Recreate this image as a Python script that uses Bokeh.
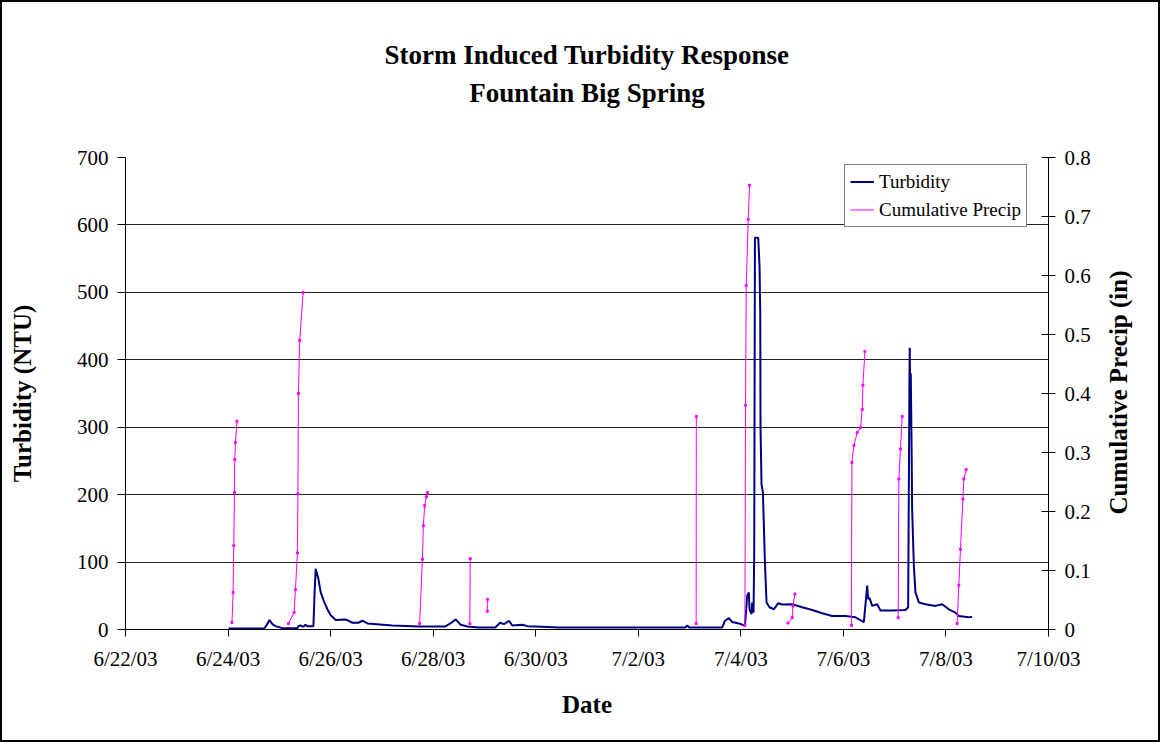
import math
import numpy as np
import pandas as pd
from bokeh.plotting import figure
from bokeh.models import (Range1d, LinearAxis, FixedTicker, CustomJSTickFormatter,
                          Legend, LegendItem, Title, ColumnDataSource)
from bokeh.embed import file_html
from bokeh.resources import INLINE

# ---------------- data ----------------
x_start = "2003-06-22"
x_end = "2003-07-10"
date_ticks = ["2003-06-22", "2003-06-24", "2003-06-26", "2003-06-28", "2003-06-30",
              "2003-07-02", "2003-07-04", "2003-07-06", "2003-07-08", "2003-07-10"]
date_tick_labels = ["6/22/03", "6/24/03", "6/26/03", "6/28/03", "6/30/03",
                    "7/2/03", "7/4/03", "7/6/03", "7/8/03", "7/10/03"]
turb_ticks = [0, 100, 200, 300, 400, 500, 600, 700]
precip_ticks = [0, 0.1, 0.2, 0.3, 0.4, 0.5, 0.6, 0.7, 0.8]
precip_tick_labels = ["0", "0.1", "0.2", "0.3", "0.4", "0.5", "0.6", "0.7", "0.8"]

turb_time = [
    "2003-06-24 00:11", "2003-06-24 16:53", "2003-06-24 17:58", "2003-06-24 19:22",
    "2003-06-24 20:46", "2003-06-24 22:11", "2003-06-25 01:27", "2003-06-25 08:28",
    "2003-06-25 08:56", "2003-06-25 09:52", "2003-06-25 11:17", "2003-06-25 12:13",
    "2003-06-25 13:09", "2003-06-25 15:57", "2003-06-25 16:34", "2003-06-25 17:02",
    "2003-06-25 18:17", "2003-06-25 19:22", "2003-06-25 20:58", "2003-06-25 22:30",
    "2003-06-26 00:03", "2003-06-26 02:23", "2003-06-26 07:04", "2003-06-26 10:12",
    "2003-06-26 13:01", "2003-06-26 14:53", "2003-06-26 17:13", "2003-06-27 04:55",
    "2003-06-27 17:24", "2003-06-28 05:43", "2003-06-28 08:03", "2003-06-28 10:32",
    "2003-06-28 12:52", "2003-06-28 16:00", "2003-06-28 21:09", "2003-06-29 05:06",
    "2003-06-29 07:18", "2003-06-29 09:10", "2003-06-29 11:31", "2003-06-29 13:03",
    "2003-06-29 17:44", "2003-06-29 20:04", "2003-06-29 23:49", "2003-06-30 10:54",
    "2003-07-02 21:59", "2003-07-02 22:56", "2003-07-02 23:52", "2003-07-03 15:18",
    "2003-07-03 16:34", "2003-07-03 18:26", "2003-07-03 19:59", "2003-07-03 23:07",
    "2003-07-04 01:55", "2003-07-04 03:00", "2003-07-04 03:47", "2003-07-04 04:04",
    "2003-07-04 05:01", "2003-07-04 05:20", "2003-07-04 05:57", "2003-07-04 06:16",
    "2003-07-04 06:36", "2003-07-04 08:08", "2003-07-04 08:45", "2003-07-04 09:05",
    "2003-07-04 09:13", "2003-07-04 09:41", "2003-07-04 10:20", "2003-07-04 11:17",
    "2003-07-04 12:02", "2003-07-04 13:26", "2003-07-04 15:29", "2003-07-04 17:30",
    "2003-07-04 19:22", "2003-07-05 00:03", "2003-07-05 04:44", "2003-07-05 09:25",
    "2003-07-05 14:05", "2003-07-05 18:46", "2003-07-06 00:59", "2003-07-06 05:40",
    "2003-07-06 09:35", "2003-07-06 11:08", "2003-07-06 11:36", "2003-07-06 12:13",
    "2003-07-06 13:29", "2003-07-06 15:49", "2003-07-06 17:22", "2003-07-06 22:50",
    "2003-07-07 05:04", "2003-07-07 06:19", "2003-07-07 06:56", "2003-07-07 07:04",
    "2003-07-07 07:24", "2003-07-07 07:32", "2003-07-07 07:52", "2003-07-07 08:11",
    "2003-07-07 08:59", "2003-07-07 09:44", "2003-07-07 11:20", "2003-07-07 14:25",
    "2003-07-07 19:05", "2003-07-07 22:14", "2003-07-08 01:22", "2003-07-08 04:27",
    "2003-07-08 06:02", "2003-07-08 10:43", "2003-07-08 12:16",
]
turb_ntu = [
    1.5, 1.5, 6, 14,
    8, 5, 2, 2,
    5, 6, 4, 7,
    5, 5, 60, 90,
    75, 55, 41, 30,
    21, 14, 15, 10,
    10, 13, 9, 6,
    4.5, 4.5, 9, 15,
    7, 4.5, 3, 3,
    10, 8, 13, 6,
    7, 5, 4.5, 3,
    3, 6, 3, 3,
    13, 17, 11, 9,
    5.5, 50, 55, 30,
    23, 40, 25, 114,
    581, 581, 539, 470,
    300, 215, 203, 99,
    40, 33, 30, 39,
    37, 37.5, 33, 29,
    24, 20, 20, 18,
    11, 65, 45, 47,
    35, 37.5, 28, 28,
    29, 33, 376, 418,
    300, 380, 287, 178,
    94, 55, 40, 37.5,
    35, 37.5, 30, 25,
    20, 18, 19,
]

# cumulative precipitation, one list per storm
precip_time = [
    ["2003-06-24 01:50", "2003-06-24 02:23", "2003-06-24 02:40", "2003-06-24 03:00",
     "2003-06-24 03:08", "2003-06-24 03:28", "2003-06-24 04:10"],
    ["2003-06-25 04:16", "2003-06-25 06:55", "2003-06-25 07:32", "2003-06-25 08:28",
     "2003-06-25 08:42", "2003-06-25 08:56", "2003-06-25 09:32", "2003-06-25 11:08"],
    ["2003-06-27 17:41", "2003-06-27 18:57", "2003-06-27 19:25", "2003-06-27 20:01",
     "2003-06-27 20:49", "2003-06-27 21:17"],
    ["2003-06-28 17:10", "2003-06-28 17:20"],
    ["2003-06-29 01:20", "2003-06-29 01:25"],
    ["2003-07-03 03:05", "2003-07-03 03:10"],
    ["2003-07-04 01:55", "2003-07-04 02:12", "2003-07-04 02:32", "2003-07-04 03:28",
     "2003-07-04 04:05"],
    ["2003-07-04 22:02", "2003-07-05 00:03", "2003-07-05 00:23", "2003-07-05 01:19"],
    ["2003-07-06 03:45", "2003-07-06 04:00", "2003-07-06 04:55", "2003-07-06 06:28",
     "2003-07-06 08:01", "2003-07-06 08:49", "2003-07-06 09:08", "2003-07-06 10:04"],
    ["2003-07-07 01:38", "2003-07-07 01:58", "2003-07-07 02:43", "2003-07-07 03:31"],
    ["2003-07-08 05:14", "2003-07-08 06:02", "2003-07-08 06:47", "2003-07-08 07:55",
     "2003-07-08 08:23", "2003-07-08 09:27"],
]
precip_in = [
    [0.012, 0.063, 0.142, 0.232, 0.288, 0.317, 0.353],
    [0.010, 0.029, 0.068, 0.13, 0.23, 0.40, 0.49, 0.571],
    [0.010, 0.119, 0.176, 0.21, 0.225, 0.232],
    [0.010, 0.120],
    [0.031, 0.051],
    [0.010, 0.361],
    [0.007, 0.38, 0.583, 0.695, 0.753],
    [0.011, 0.020, 0.04, 0.06],
    [0.007, 0.283, 0.312, 0.334, 0.342, 0.373, 0.414, 0.471],
    [0.02, 0.255, 0.306, 0.361],
    [0.01, 0.075, 0.136, 0.221, 0.255, 0.271],
]

title_lines = ["Storm Induced Turbidity Response", "Fountain Big Spring"]
right_title = "Cumulative Precip (in)"

# ---------------- build ----------------
FONT = "Liberation Serif"

def ms(s):
    return pd.Timestamp(s).value / 1e6

px, py = [], []
for ts, vs in zip(precip_time, precip_in):
    px += [ms(t) for t in ts] + [ms(ts[-1])]
    py += list(vs) + [np.nan]

turb_src = ColumnDataSource(dict(x=[ms(t) for t in turb_time], y=turb_ntu))
prec_src = ColumnDataSource(dict(x=px, y=py))

tick_ms = [ms(t) for t in date_ticks]

W, H = 1160, 742
p = figure(width=W, height=H, output_backend="svg", toolbar_location=None,
           x_range=Range1d(ms(x_start), ms(x_end)), y_range=Range1d(0, 700),
           min_border_left=123, min_border_right=114, min_border_top=155,
           min_border_bottom=115, background_fill_color="white",
           border_fill_color="white", outline_line_color=None)
p.styles = {"border": "2px solid black"}

p.extra_y_ranges = {"precip": Range1d(0, 0.8)}

# gridlines
p.xgrid.grid_line_color = None
p.ygrid.grid_line_color = "#222222"
p.ygrid.grid_line_width = 1
p.ygrid.ticker = FixedTicker(ticks=turb_ticks)

LABEL_JS = "const i = tvals.indexOf(tick); return i >= 0 ? tlabels[i] : '';"

def label_style(ax, size="25px"):
    ax.axis_label_text_font = FONT
    ax.axis_label_text_font_size = size
    ax.axis_label_text_font_style = "bold"
    ax.axis_label_text_color = "black"

def bare(ax):
    ax.axis_line_color = None
    ax.major_tick_line_color = None
    ax.minor_tick_line_color = None
    ax.major_tick_out = 0
    ax.major_tick_in = 0
    ax.minor_tick_out = 0
    ax.minor_tick_in = 0

# left axis
ya = p.yaxis[0]
ya.ticker = FixedTicker(ticks=turb_ticks)
ya.axis_label = "Turbidity (NTU)"
ya.major_tick_out = 8
ya.major_tick_in = 0
ya.minor_tick_out = 0
ya.minor_tick_in = 0
ya.major_label_standoff = 9
ya.axis_label_standoff = 38

# bottom axis
xa = p.xaxis[0]
xa.ticker = FixedTicker(ticks=tick_ms)
xa.formatter = CustomJSTickFormatter(args=dict(tvals=tick_ms, tlabels=date_tick_labels),
                                     code=LABEL_JS)
xa.axis_label = "Date"
xa.major_tick_out = 7
xa.major_tick_in = 0
xa.minor_tick_out = 0
xa.minor_tick_in = 0
xa.major_label_standoff = 10
xa.axis_label_standoff = 17

# right axis (ticks and numbers)
ra = LinearAxis(y_range_name="precip", ticker=FixedTicker(ticks=precip_ticks))
ra.formatter = CustomJSTickFormatter(args=dict(tvals=precip_ticks, tlabels=precip_tick_labels),
                                     code=LABEL_JS)
ra.major_tick_out = 7
ra.major_tick_in = 7
ra.minor_tick_out = 0
ra.minor_tick_in = 0
ra.major_label_standoff = 9
p.add_layout(ra, "right")

for ax in [ya, xa, ra]:
    ax.axis_line_color = "black"
    ax.major_tick_line_color = "black"
    ax.major_label_text_font = FONT
    ax.major_label_text_font_size = "21px"
    ax.major_label_text_color = "black"
    label_style(ax)

# right axis title, reading bottom to top: carried as the single rotated tick label of a
# bare axis; the text starts at the anchor and runs upward, so the anchor sits below centre
RT_ANCHOR = 0.195
ra_title = LinearAxis(y_range_name="precip", ticker=FixedTicker(ticks=[RT_ANCHOR]),
                      major_label_standoff=25, major_label_orientation=math.pi / 2)
ra_title.formatter = CustomJSTickFormatter(args=dict(t=right_title), code="return t;")
bare(ra_title)
ra_title.major_label_text_font = FONT
ra_title.major_label_text_font_size = "25px"
ra_title.major_label_text_font_style = "bold"
ra_title.major_label_text_color = "black"
p.add_layout(ra_title, "right")

# data
r_turb = p.line("x", "y", source=turb_src, line_color="#000080", line_width=2)
r_prec = p.line("x", "y", source=prec_src, line_color="#FF00FF", line_width=1,
                y_range_name="precip")
r_prec_pts = p.scatter("x", "y", source=prec_src, marker="square", size=2,
                       fill_color="#FF00FF", line_color="#FF00FF", y_range_name="precip")

legend = Legend(items=[LegendItem(label="Turbidity", renderers=[r_turb]),
                       LegendItem(label="Cumulative Precip", renderers=[r_prec])],
                location=(719, 402), border_line_color="black", border_line_width=1,
                background_fill_color="white", background_fill_alpha=1,
                label_text_font=FONT, label_text_font_size="19px", label_text_color="black",
                glyph_width=24, glyph_height=23, spacing=5, padding=5, margin=0,
                label_standoff=5)
p.add_layout(legend, "center")

# two-line title: second line carried by a bare top axis, first line by a Title
top_line2 = LinearAxis(ticker=FixedTicker(ticks=[]), axis_label=title_lines[1],
                       axis_label_standoff=50)
bare(top_line2)
label_style(top_line2, "27px")
p.add_layout(top_line2, "above")
p.add_layout(Title(text=title_lines[0], align="center", vertical_align="top",
                   text_font=FONT, text_font_size="27px", text_font_style="bold",
                   text_color="black", standoff=6), "above")

open("out.html", "w").write(file_html(p, INLINE))
